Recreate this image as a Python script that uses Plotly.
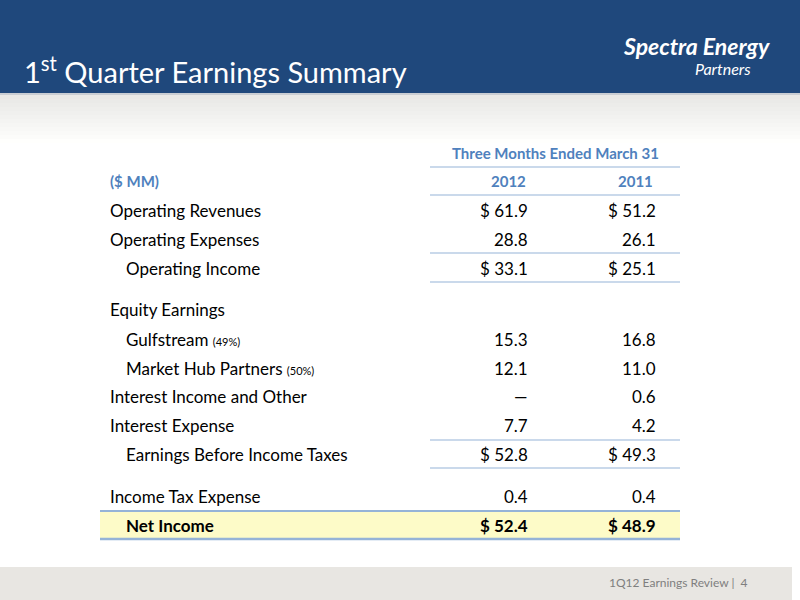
import plotly.graph_objects as go

labels = ["Operating Revenues", "Operating Expenses", "Operating Income", "Equity Earnings",
          "Gulfstream <span style='font-size:11px'>(49%)</span>",
          "Market Hub Partners <span style='font-size:11px'>(50%)</span>",
          "Interest Income and Other", "Interest Expense", "Earnings Before Income Taxes",
          "Income Tax Expense", "<b>Net Income</b>"]
indent = [0, 0, 1, 0, 1, 1, 0, 0, 1, 0, 1]
v2012 = ["$ 61.9", "28.8", "$ 33.1", "", "15.3", "12.1", "\u2014", "7.7", "$ 52.8", "0.4", "<b>$ 52.4</b>"]
v2011 = ["$ 51.2", "26.1", "$ 25.1", "", "16.8", "11.0", "0.6", "4.2", "$ 49.3", "0.4", "<b>$ 48.9</b>"]
years = ["2012", "2011"]
row_y = [210, 239, 268, 309, 339, 368, 396, 425, 454, 496, 525]

FONT = "Lato"
BLUE = "#4f81bd"
LINE = "#95b3d7"

fig = go.Figure()
shapes = [
    dict(type="rect", x0=0, x1=800, y0=0, y1=93, fillcolor="#1f487c", line_width=0, layer="below"),
    dict(type="rect", x0=0, x1=800, y0=93, y1=95, fillcolor="#c9cdd3", line_width=0, layer="below"),
    dict(type="rect", x0=0, x1=792, y0=567, y1=600, fillcolor="#e8e6e2", line_width=0, layer="below"),
    dict(type="rect", x0=100, x1=680, y0=511, y1=539, fillcolor="#fdfbc8", line_width=0, layer="below"),
]
# soft grey gradient under the header
for i in range(12):
    g = int(0xe8 + (0xff - 0xe8) * i / 11)
    shapes.append(dict(type="rect", x0=0, x1=800, y0=95 + i * 4, y1=99 + i * 4,
                       fillcolor="rgb(%d,%d,%d)" % (g, g, g - 2 if g > 2 else g),
                       line_width=0, layer="below"))

def hline(y, x0=430, x1=680, w=1.2):
    shapes.append(dict(type="line", x0=x0, x1=x1, y0=y, y1=y, line=dict(color=LINE, width=w)))
for y in [167, 195, 253, 282, 440, 468]:
    hline(y)
hline(511, 100, 680, 2)
hline(539, 100, 680, 2.5)

ann = []
def txt(x, y, t, size=17, color="#000", anchor="left", **kw):
    ann.append(dict(x=x, y=y, text=t, showarrow=False, xanchor=anchor, yanchor="middle",
                    font=dict(family=FONT, size=size, color=color), **kw))

txt(22, 70, "1<sup>st</sup> Quarter Earnings Summary", size=29, color="white")
txt(772, 46, "<b><i>Spectra Energy</i></b>", size=23, color="white", anchor="right")
txt(753, 68, "<i>Partners</i>", size=16, color="white", anchor="right")
txt(555, 153, "<b>Three Months Ended March 31</b>", size=15, color=BLUE, anchor="center")
txt(108, 181, "<b>($ MM)</b>", size=15, color=BLUE)
txt(528, 181, "<b>%s</b>" % years[0], size=15, color=BLUE, anchor="right")
txt(655, 181, "<b>%s</b>" % years[1], size=15, color=BLUE, anchor="right")
for lab, ind, a, b, y in zip(labels, indent, v2012, v2011, row_y):
    txt(108 + 16 * ind, y, lab)
    txt(530, y, a, anchor="right")
    txt(658, y, b, anchor="right")
txt(750, 582, "1Q12 Earnings Review |  4", size=12, color="#7f7f7f", anchor="right")

fig.update_layout(
    width=800, height=600, margin=dict(l=0, r=0, t=0, b=0),
    paper_bgcolor="white", plot_bgcolor="white",
    xaxis=dict(range=[0, 800], visible=False, fixedrange=True),
    yaxis=dict(range=[600, 0], visible=False, fixedrange=True),
    shapes=shapes, annotations=ann, showlegend=False,
)
fig.write_html("out.html", config={"displayModeBar": False},
               post_script="document.body.style.margin='0';")
